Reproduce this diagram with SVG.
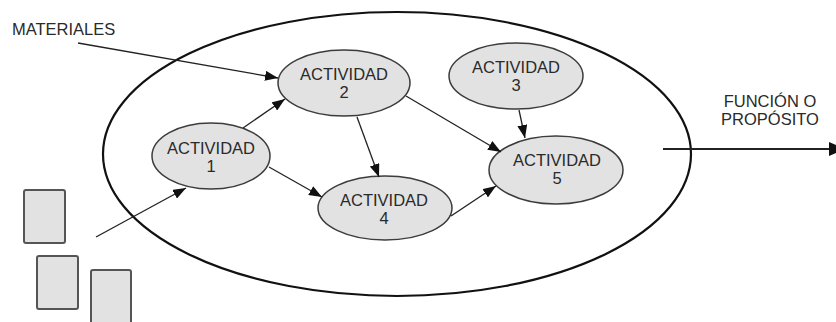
<svg xmlns="http://www.w3.org/2000/svg" width="836" height="322" viewBox="0 0 836 322">
<style>
  .node ellipse { fill: #e2e2e2; stroke: #3c3c3c; stroke-width: 1.5; }
  .node text, .label { font-family: "Liberation Sans", Arial, sans-serif; font-size: 16.5px; fill: #2a2a2a; text-anchor: middle; }
  .label.start { text-anchor: start; }
  .conn line { stroke: #222; stroke-width: 1.3; marker-end: url(#ah); }
  .doc { fill: #e2e2e2; stroke: #555; stroke-width: 2; }
</style>
<defs>
  <marker id="ah" markerUnits="userSpaceOnUse" markerWidth="13" markerHeight="10" refX="13" refY="5" orient="auto">
    <path d="M0,0 L13,5 L0,10 z" fill="#111"/>
  </marker>
</defs>
<rect width="836" height="322" fill="#fff"/>

<g id="system">
  <ellipse cx="397" cy="154" rx="294" ry="142" fill="none" stroke="#111" stroke-width="2.2"/>
</g>

<g id="documents">
  <rect class="doc" x="24" y="190" width="41" height="53" rx="2"/>
  <rect class="doc" x="37" y="256" width="41" height="53" rx="2"/>
  <rect class="doc" x="91" y="270" width="40" height="60" rx="2"/>
</g>

<g id="materiales">
  <text class="label start" x="12" y="35">MATERIALES</text>
</g>

<g id="funcion">
  <text class="label" x="770" y="107">FUNCIÓN O</text>
  <text class="label" x="770" y="125">PROPÓSITO</text>
</g>

<g id="act1" class="node">
  <ellipse cx="211" cy="156" rx="59" ry="33"/>
  <text x="211" y="154">ACTIVIDAD</text>
  <text x="211" y="172">1</text>
</g>
<g id="act2" class="node">
  <ellipse cx="344" cy="83" rx="66" ry="33"/>
  <text x="344" y="80">ACTIVIDAD</text>
  <text x="344" y="98">2</text>
</g>
<g id="act3" class="node">
  <ellipse cx="516" cy="76" rx="67" ry="33"/>
  <text x="516" y="73">ACTIVIDAD</text>
  <text x="516" y="91">3</text>
</g>
<g id="act4" class="node">
  <ellipse cx="385" cy="208" rx="67" ry="32"/>
  <text x="384" y="206">ACTIVIDAD</text>
  <text x="384" y="224">4</text>
</g>
<g id="act5" class="node">
  <ellipse cx="556" cy="170" rx="67" ry="34"/>
  <text x="557" y="166">ACTIVIDAD</text>
  <text x="557" y="184">5</text>
</g>

<g id="connectors" class="conn">
  <line x1="78" y1="43" x2="278" y2="78"/>
  <line x1="96" y1="237" x2="186" y2="188"/>
  <line x1="243" y1="128" x2="285" y2="99"/>
  <line x1="269" y1="167" x2="322" y2="197"/>
  <line x1="357" y1="117" x2="379" y2="177"/>
  <line x1="406" y1="96" x2="501" y2="152"/>
  <line x1="519" y1="110" x2="525" y2="138"/>
  <line x1="451" y1="216" x2="496" y2="186"/>
  <line x1="663" y1="149" x2="830" y2="149" style="stroke-width:2.2;marker-end:none"/>
  <polygon points="829,142 845,149 829,156" fill="#111"/>
</g>
</svg>
